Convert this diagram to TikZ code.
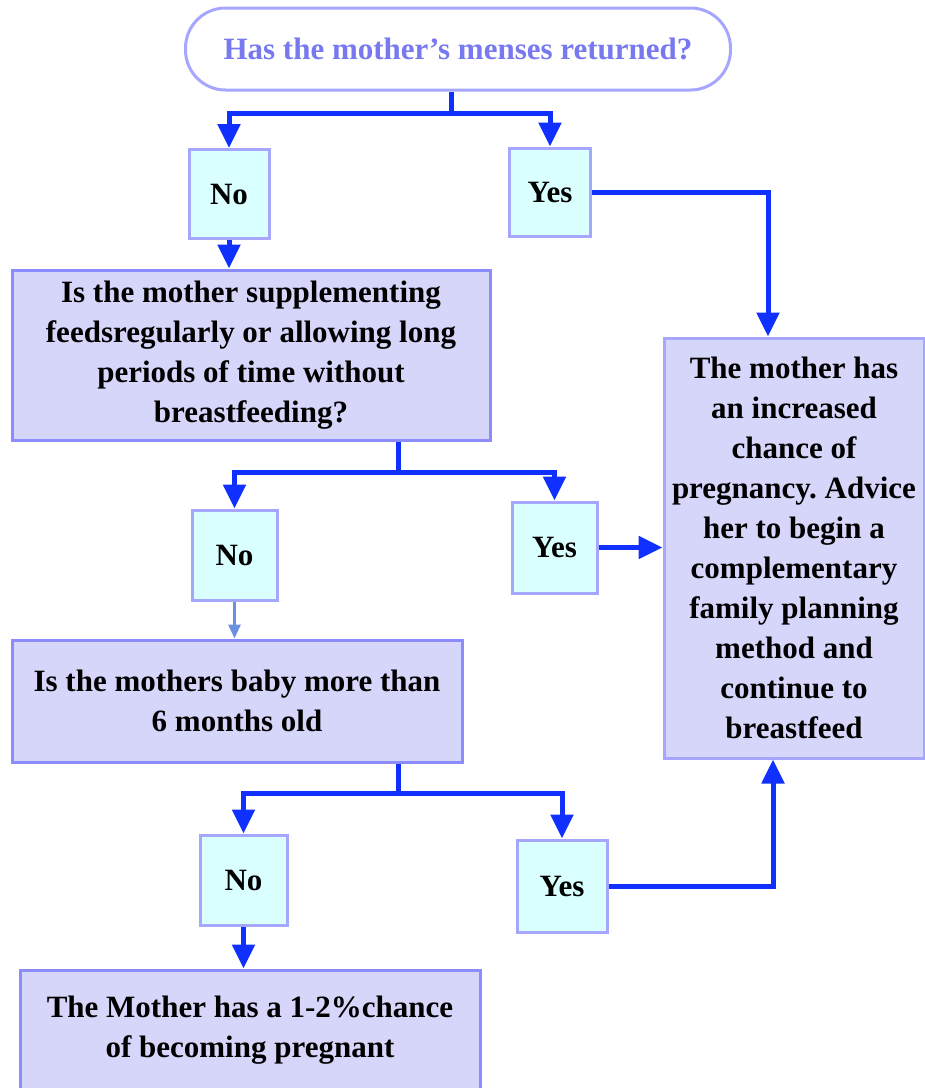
\documentclass[tikz,border=0pt]{standalone}
\usepackage{fontspec}
\setmainfont{Liberation Serif}
\usetikzlibrary{arrows.meta}
\frenchspacing

\definecolor{flowblue}{HTML}{1030FF}
\definecolor{paleflow}{HTML}{6A90E0}
\definecolor{edgeviolet}{HTML}{A6A6FF}
\definecolor{darkviolet}{HTML}{8C8CFF}
\definecolor{askfont}{HTML}{7878F0}
\definecolor{ansfill}{HTML}{D9FFFF}
\definecolor{qfill}{HTML}{D6D6FA}

\tikzset{
    basefont/.style={font=\bfseries\fontsize{31}{40}\selectfont, align=center},
    askbox/.style={basefont, draw=edgeviolet, line width=3pt, fill=white, text=askfont, rounded corners=40pt},
    ansbox/.style={basefont, draw=edgeviolet, line width=3pt, fill=ansfill, inner sep=0pt},
    qbox/.style={basefont, draw=darkviolet, line width=3pt, fill=qfill, inner sep=0pt},
    resbox/.style={basefont, draw=edgeviolet, line width=3pt, fill=qfill, inner sep=0pt},
    flow/.style={draw=flowblue, line width=5pt, -{Triangle[width=22pt,length=24pt]}},
    flowline/.style={draw=flowblue, line width=5pt},
    thinflow/.style={draw=paleflow, line width=3pt, -{Triangle[width=12pt,length=14pt]}}
}

\begin{document}
\begin{tikzpicture}[x=1pt, y=-1pt]

    \useasboundingbox (0,0) rectangle (925,1088);

    % First question
    \node[askbox, minimum width=545pt, minimum height=82pt] (menses) at (458,49) {Has the mother’s menses returned?};

    % Answers to the first question
    \node[ansbox, minimum width=80pt, minimum height=89pt] (no1) at (229,194) {No};
    \node[ansbox, minimum width=81pt, minimum height=88pt] (yes1) at (550,192) {Yes};

    % Second question
    \node[qbox, minimum width=478pt, minimum height=170pt] (supp) at (251,355)
        {Is the mother supplementing\\ feedsregularly or allowing long\\ periods of time without\\ breastfeeding?};

    % Answers to the second question
    \node[ansbox, minimum width=85pt, minimum height=90pt] (no2) at (234.5,555) {No};
    \node[ansbox, minimum width=85pt, minimum height=91pt] (yes2) at (554.5,547.5) {Yes};

    % Result on the right
    \node[resbox, minimum width=260pt, minimum height=420pt] (pregn) at (794,548)
        {The mother has\\ an increased\\ chance of\\ pregnancy. Advice\\ her to begin a\\ complementary\\ family planning\\ method and\\ continue to\\ breastfeed};

    % Third question
    \node[qbox, minimum width=450pt, minimum height=122pt] (baby) at (237,701)
        {Is the mothers baby more than\\ 6 months old};

    % Answers to the third question
    \node[ansbox, minimum width=87pt, minimum height=90pt] (no3) at (243.5,880) {No};
    \node[ansbox, minimum width=90pt, minimum height=92pt] (yes3) at (562,886) {Yes};

    % Result at the bottom
    \node[qbox, minimum width=460pt, minimum height=120pt] (low) at (250,1030)
        {The Mother has a 1-2\%chance\\ of becoming pregnant};

    % Branches of the first question
    \draw[flowline] (menses.south -| 451,0) -- (451,113) coordinate (fork1);
    \draw[flow] (fork1) -| (no1.north);
    \draw[flow] (fork1) -| (yes1.north);
    \draw[flow] (no1.south) -- (supp.north -| no1.south);
    \draw[flow] (yes1.east) -| ([xshift=-26pt]pregn.north);

    % Branches of the second question
    \draw[flowline] (supp.south -| 398,0) -- (398,472) coordinate (fork2);
    \draw[flow] (fork2) -| (no2.north);
    \draw[flow] (fork2) -| (yes2.north);
    \draw[thinflow] (no2.south) -- (baby.north -| no2.south);
    \draw[flow] (yes2.east) -- (yes2.east -| pregn.west);

    % Branches of the third question
    \draw[flowline] (baby.south -| 398,0) -- (398,793) coordinate (fork3);
    \draw[flow] (fork3) -| (no3.north);
    \draw[flow] (fork3) -| (yes3.north);
    \draw[flow] (no3.south) -- (low.north -| no3.south);
    \draw[flow] (yes3.east) -| ([xshift=-21pt]pregn.south);

\end{tikzpicture}
\end{document}
